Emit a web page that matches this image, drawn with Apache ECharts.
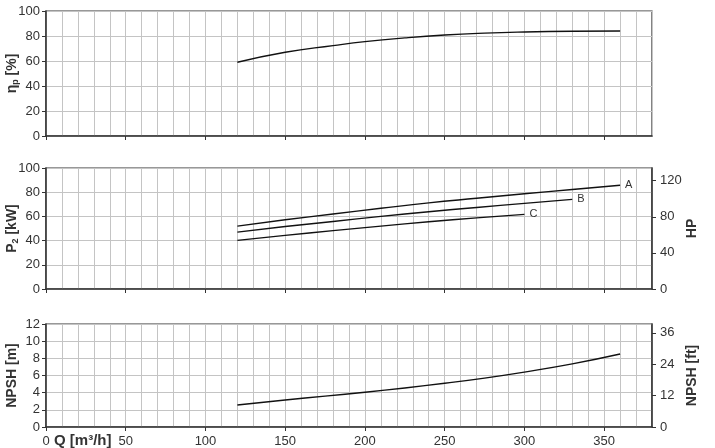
<!DOCTYPE html>
<html>
<head>
<meta charset="utf-8">
<script src="https://cdn.jsdelivr.net/npm/echarts@6/dist/echarts.min.js"></script>
<style>
  html, body { margin: 0; padding: 0; background: #fff; }
  #chart { width: 715px; height: 448px; }
</style>
</head>
<body>
<div id="chart"></div>
<script>
// flow values for each curve (m3/h)
const qEff = [120, 150, 180, 200, 225, 250, 275, 300, 330, 360]
const effValues = [59, 67, 72.3, 75.5, 78.5, 80.8, 82.3, 83.2, 83.8, 84]

const qA = [120, 150, 180, 210, 240, 270, 300, 330, 360]
const powerA = [52, 57.2, 62, 66.7, 71.2, 75, 78.7, 82.2, 85.7]
const qB = [120, 150, 180, 210, 240, 270, 300, 330]
const powerB = [47, 51.6, 55.8, 60, 63.9, 67.4, 70.8, 74.1]
const qC = [120, 150, 180, 210, 240, 270, 300]
const powerC = [40.2, 44.3, 48.2, 52, 55.6, 58.8, 61.7]

const qNpsh = [120, 150, 175, 200, 225, 250, 275, 300, 330, 360]
const npshValues = [2.57, 3.15, 3.6, 4.05, 4.55, 5.1, 5.7, 6.4, 7.35, 8.5]

const qTicks = [0, 50, 100, 150, 200, 250, 300, 350]
const kwToHp = 1.341
const mToFt = 3.281

const pair = (xs, ys) => xs.map((x, i) => [x, ys[i]])

const font = '"Liberation Sans", Arial, sans-serif'
const dark = '#333'
const gridGray = '#c4c4c4'

const grids = [
  { left: 46, right: 63, top: 11, height: 125 },
  { left: 46, right: 63, top: 168, height: 121 },
  { left: 46, right: 63, top: 324, height: 103 }
].map(g => Object.assign(g, {
  show: true, borderColor: dark, borderWidth: 1.2,
  containLabel: false, outerBoundsMode: 'none'
}))

// fine vertical grid every 10 m3/h
function makeGridX(idx) {
  return {
    type: 'value', gridIndex: idx, min: 0, max: 380, interval: 10,
    axisLine: { show: false, onZero: false }, axisTick: { show: false }, axisLabel: { show: false },
    splitLine: { show: true, lineStyle: { color: gridGray, width: 1 } }
  }
}

// ticks and labels every 50
function makeX(idx, showLabels) {
  return {
    type: 'value', gridIndex: idx, min: 0, max: 380, interval: 50,
    axisLine: { show: true, onZero: false, lineStyle: { color: dark, width: 1.5 } },
    axisTick: { show: true, customValues: qTicks, length: 4, lineStyle: { color: dark } },
    axisLabel: {
      show: showLabels, customValues: qTicks, color: dark, fontSize: 13,
      fontFamily: font, margin: 8
    },
    splitLine: { show: false }
  }
}

const richName = {
  b: { fontSize: 14, fontWeight: 'bold', fontFamily: font, color: dark, lineHeight: 16 },
  s: { fontSize: 9, fontWeight: 'bold', fontFamily: font, color: dark, lineHeight: 16, verticalAlign: 'bottom' }
}

function makeY(idx, opts) {
  return Object.assign({
    type: 'value', gridIndex: idx, position: 'left',
    nameLocation: 'middle', nameRotate: 90, nameGap: 26, nameMoveOverlap: false,
    nameTextStyle: { fontSize: 14, fontWeight: 'bold', fontFamily: font, color: dark, rich: richName },
    axisLine: { show: true, onZero: false, lineStyle: { color: dark, width: 1.5 } },
    axisTick: { show: true, length: 4, lineStyle: { color: dark } },
    axisLabel: { color: dark, fontSize: 13, fontFamily: font, margin: 6 },
    splitLine: { show: true, lineStyle: { color: gridGray, width: 1 } }
  }, opts)
}

function makeRightY(idx, opts) {
  return Object.assign({
    type: 'value', gridIndex: idx, position: 'right',
    nameLocation: 'middle', nameRotate: 90, nameGap: 33, nameMoveOverlap: false,
    nameTextStyle: { fontSize: 14, fontWeight: 'bold', fontFamily: font, color: dark },
    axisLine: { show: true, onZero: false, lineStyle: { color: dark, width: 1.5 } },
    axisTick: { show: true, length: 4, lineStyle: { color: dark } },
    axisLabel: { color: dark, fontSize: 13, fontFamily: font, margin: 8, showMaxLabel: false },
    splitLine: { show: false }
  }, opts)
}

function curve(name, data, xi, yi, tag) {
  const s = {
    name: name, type: 'line', xAxisIndex: xi, yAxisIndex: yi,
    data: data, smooth: true, symbol: 'none',
    lineStyle: { color: '#111', width: 1.4 }
  }
  if (tag) {
    s.endLabel = { show: true, formatter: tag, color: dark, fontSize: 11, fontFamily: font, distance: 5 }
  }
  return s
}

const chart = echarts.init(document.getElementById('chart'))
chart.setOption({
  animation: false,
  backgroundColor: '#fff',
  grid: grids,
  xAxis: [
    makeX(0, false), makeX(1, false), makeX(2, true),
    makeGridX(0), makeGridX(1), makeGridX(2)
  ],
  yAxis: [
    makeY(0, { min: 0, max: 100, interval: 20, name: '{b|η}{s|p}{b| [%]}' }),
    makeY(1, { min: 0, max: 100, interval: 20, name: '{b|P}{s|2}{b| [kW]}' }),
    makeRightY(1, { min: 0, max: 100 * kwToHp, interval: 40, name: 'HP' }),
    makeY(2, { min: 0, max: 12, interval: 2, name: '{b|NPSH [m]}' }),
    makeRightY(2, { min: 0, max: 12 * mToFt, interval: 12, name: 'NPSH [ft]' })
  ],
  graphic: [{
    type: 'text', left: 54, top: 433,
    style: { text: 'Q [m³/h]', fontSize: 15, fontWeight: 'bold', fontFamily: font, fill: dark }
  }],
  series: [
    curve('eta', pair(qEff, effValues), 0, 0),
    curve('A', pair(qA, powerA), 1, 1, 'A'),
    curve('B', pair(qB, powerB), 1, 1, 'B'),
    curve('C', pair(qC, powerC), 1, 1, 'C'),
    curve('npsh', pair(qNpsh, npshValues), 2, 3)
  ]
})
</script>
</body>
</html>
